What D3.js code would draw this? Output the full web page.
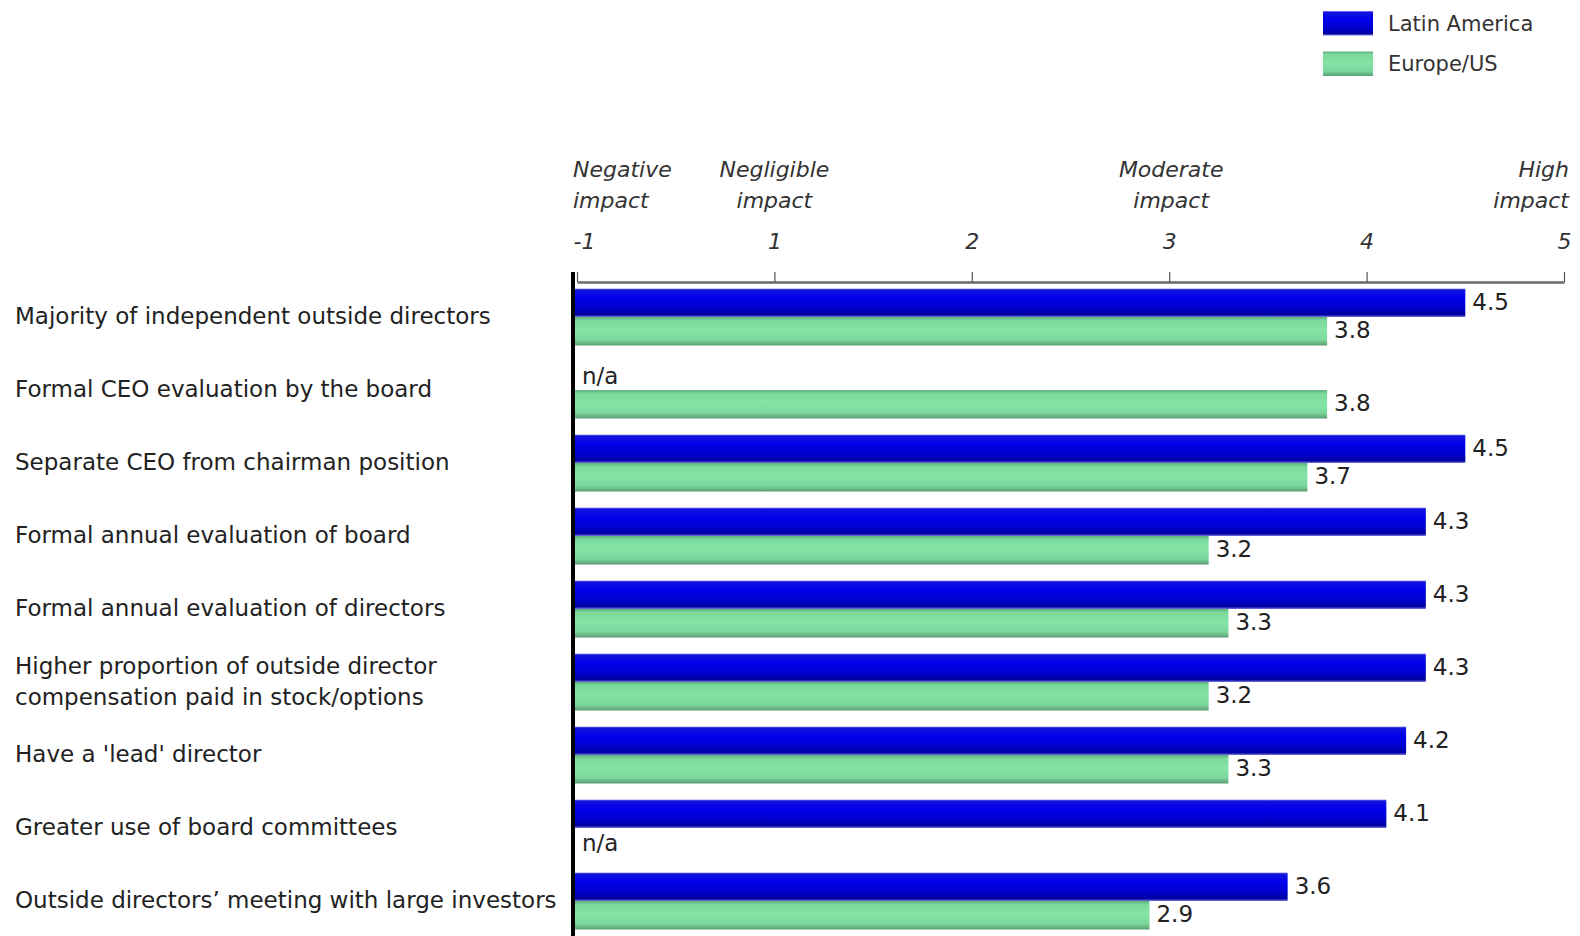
<!DOCTYPE html>
<html>
<head>
<meta charset="utf-8">
<script src="https://cdn.jsdelivr.net/npm/d3@7/dist/d3.min.js"></script>
<style>
  html, body { margin: 0; padding: 0; background: #ffffff; }
  svg { display: block; }
  text { font-family: "DejaVu Sans", Verdana, sans-serif; }
</style>
</head>
<body>
<svg id="chart" width="1580" height="936"></svg>
<script>
// Board practices and their perceived impact on governance
const categories = [
  ["Majority of independent outside directors"],
  ["Formal CEO evaluation by the board"],
  ["Separate CEO from chairman position"],
  ["Formal annual evaluation of board"],
  ["Formal annual evaluation of directors"],
  ["Higher proportion of outside director", "compensation paid in stock/options"],
  ["Have a 'lead' director"],
  ["Greater use of board committees"],
  ["Outside directors\u2019 meeting with large investors"]
];
const seriesNames = ["Latin America", "Europe/US"];
const latinAmerica = [4.5, null, 4.5, 4.3, 4.3, 4.3, 4.2, 4.1, 3.6];
const europeUS     = [3.8, 3.8, 3.7, 3.2, 3.3, 3.2, 3.3, null, 2.9];
const tickValues = [0, 1, 2, 3, 4, 5];
const tickLabels = ["-1", "1", "2", "3", "4", "5"];
const impactValues = [0, 1, 3, 5];
const impactLabels = [["Negative", "impact"], ["Negligible", "impact"], ["Moderate", "impact"], ["High", "impact"]];
const missingLabel = "n/a";

const svg = d3.select("#chart");
const defs = svg.append("defs");

// Shaded fills for the two series
const blueGrad = defs.append("linearGradient").attr("id", "gBlue")
  .attr("x1", 0).attr("y1", 0).attr("x2", 0).attr("y2", 1);
[["0%", "#9a9aff"], ["5%", "#1414dc"], ["35%", "#0000ec"], ["70%", "#0000cc"], ["92%", "#0000a0"], ["100%", "#7a7ae8"]]
  .forEach(([o, c]) => blueGrad.append("stop").attr("offset", o).attr("stop-color", c));
const greenGrad = defs.append("linearGradient").attr("id", "gGreen")
  .attr("x1", 0).attr("y1", 0).attr("x2", 0).attr("y2", 1);
[["0%", "#5fae7e"], ["12%", "#7ad99b"], ["45%", "#84e4a6"], ["80%", "#7bd89c"], ["100%", "#5a9d73"]]
  .forEach(([o, c]) => greenGrad.append("stop").attr("offset", o).attr("stop-color", c));
const fills = ["url(#gBlue)", "url(#gGreen)"];

// Scales
const x = d3.scaleLinear().domain([0, 5]).range([577, 1564]);
const rows = d3.range(categories.length);
const y = d3.scaleBand().domain(rows).range([288.5, 929.5]).paddingInner(16 / 73).paddingOuter(0);
const ySeries = d3.scaleBand().domain([0, 1]).range([0, y.bandwidth()]);

const values = [latinAmerica, europeUS];

// Top axis
const axisY = 282;
const axis = d3.axisTop(x)
  .tickValues(tickValues)
  .tickFormat((d, i) => tickLabels[i])
  .tickSize(10)
  .tickPadding(23)
  .tickSizeOuter(0);
const gAxis = svg.append("g").attr("transform", `translate(0,${axisY})`).call(axis);
gAxis.select(".domain").attr("stroke", "#6a6a6a").attr("stroke-width", 2.5);
gAxis.selectAll(".tick line").attr("stroke", "#555").attr("stroke-width", 1.2);
gAxis.selectAll(".tick text")
  .attr("font-size", 22).attr("font-style", "italic").attr("fill", "#333")
  .attr("font-family", "DejaVu Sans, Verdana, sans-serif")
  .attr("text-anchor", (d, i) => i === 0 ? "start" : "middle")
  .attr("dx", (d, i) => i === 0 ? -4 : 0);

// Impact scale headings above the ticks
const anchors = ["start", "middle", "middle", "end"];
const nudges = [-4, 0, 2, 5];
impactValues.forEach((v, i) => {
  const t = svg.append("text")
    .attr("x", x(v) + nudges[i])
    .attr("y", 177)
    .attr("text-anchor", anchors[i])
    .attr("font-size", 22).attr("font-style", "italic").attr("fill", "#333");
  impactLabels[i].forEach((line, j) => {
    t.append("tspan").attr("x", x(v) + nudges[i]).attr("dy", j === 0 ? 0 : 31).text(line);
  });
});

// Bars
const gRows = svg.append("g").selectAll("g").data(rows).join("g")
  .attr("transform", d => `translate(0,${y(d)})`);

gRows.each(function (r) {
  const g = d3.select(this);
  values.forEach((series, s) => {
    const v = series[r];
    if (v == null) {
      g.append("text")
        .attr("x", x(0) + 5)
        .attr("y", ySeries(s) + ySeries.bandwidth() / 2)
        .attr("dy", "0.36em")
        .attr("font-size", 23).attr("fill", "#222")
        .text(missingLabel);
      return;
    }
    g.append("rect")
      .attr("x", x(0) - 3)
      .attr("y", ySeries(s))
      .attr("width", x(v) - x(0) + 3)
      .attr("height", ySeries.bandwidth())
      .attr("fill", fills[s]);
    g.append("text")
      .attr("x", x(v) + 7)
      .attr("y", ySeries(s) + ySeries.bandwidth() / 2)
      .attr("dy", "0.3em")
      .attr("font-size", 23).attr("fill", "#222")
      .text(d3.format(".1f")(v));
  });
});

// Category labels
gRows.append("text")
  .attr("x", 15)
  .attr("font-size", 23).attr("fill", "#222")
  .each(function (r) {
    const lines = categories[r];
    const t = d3.select(this);
    const mid = y.bandwidth() / 2 - 1;
    lines.forEach((line, j) => {
      t.append("tspan")
        .attr("x", 15)
        .attr("y", mid + (j - (lines.length - 1) / 2) * 31)
        .attr("dy", "0.35em")
        .text(line);
    });
  });

// Zero line
svg.append("line")
  .attr("x1", x(0) - 4).attr("x2", x(0) - 4)
  .attr("y1", 272).attr("y2", 936)
  .attr("stroke", "#000").attr("stroke-width", 4);

// Legend
const legend = svg.append("g").attr("transform", "translate(1323,11)");
seriesNames.forEach((name, i) => {
  const g = legend.append("g").attr("transform", `translate(0,${i * 40.5})`);
  g.append("rect").attr("width", 50).attr("height", 24.5).attr("fill", fills[i]);
  g.append("text").attr("x", 65).attr("y", 12.5).attr("dy", "0.35em")
    .attr("font-size", 21).attr("fill", "#333").text(name);
});
</script>
</body>
</html>
